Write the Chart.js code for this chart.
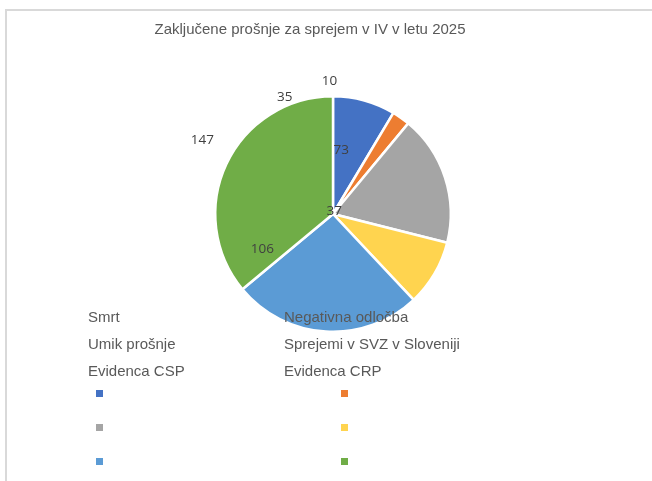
<!DOCTYPE html>
<html>
<head>
<meta charset="utf-8">
<script src="https://cdn.jsdelivr.net/npm/chart.js@4"></script>
<style>
  html, body { margin: 0; padding: 0; background: #fff; }
  #wrap { position: relative; width: 652px; height: 481px; }
</style>
</head>
<body>
<div id="wrap"><canvas id="graf" width="652" height="481"></canvas></div>
<script>
// podatki
var naslov = "Zaključene prošnje za sprejem v IV v letu 2025";
var kategorije = ["Smrt", "Negativna odločba", "Umik prošnje", "Sprejemi v SVZ v Sloveniji", "Evidenca CSP", "Evidenca CRP"];
var vrednosti = [35, 10, 73, 37, 106, 147];
var barve = ["#4472C4", "#ED7D31", "#A5A5A5", "#FFD44F", "#5B9BD5", "#70AD47"];

// kje so oznake vrednosti (v enotah polmera od sredine), kot v Excelu
var zamikOznak = [[-0.41, -0.99], [-0.03, -1.13], [0.07, -0.54], [0.01, -0.02], [-0.60, 0.30], [-1.11, -0.63]];

const okvir = {
  id: "okvir",
  beforeDraw(chart) {
    const c = chart.ctx;
    c.save();
    c.fillStyle = "#fff";
    c.fillRect(0, 0, chart.width, chart.height);
    c.strokeStyle = "#D9D9D9";
    c.lineWidth = 2;
    c.strokeRect(6, 10, chart.width + 20, chart.height + 20);
    c.fillStyle = "#595959";
    c.font = "15px 'Liberation Sans'";
    c.textAlign = "center";
    c.textBaseline = "middle";
    c.fillText(naslov, 310, 30);
    c.restore();
  }
};

const oznake = {
  id: "oznake",
  afterDatasetsDraw(chart) {
    const c = chart.ctx;
    const arcs = chart.getDatasetMeta(0).data;
    const cx = arcs[0].x, cy = arcs[0].y, r = arcs[0].outerRadius;
    c.save();
    c.fillStyle = "#404040";
    c.font = "13.5px 'Open Sans'";
    c.textAlign = "center";
    c.textBaseline = "middle";
    vrednosti.forEach(function (v, i) {
      c.fillText(String(v), cx + zamikOznak[i][0] * r, cy + zamikOznak[i][1] * r);
    });
    c.restore();
  }
};

const legenda = {
  id: "legenda",
  afterDraw(chart) {
    const c = chart.ctx;
    const ds = chart.data.datasets[0];
    c.save();
    c.font = "15px 'Liberation Sans'";
    c.textBaseline = "middle";
    c.textAlign = "left";
    chart.data.labels.forEach(function (l, i) {
      const stolpec = i % 2, vrsta = Math.floor(i / 2);
      c.fillStyle = "#595959";
      c.fillText(l, stolpec ? 284 : 88, 318 + vrsta * 27);
      c.fillStyle = ds.backgroundColor[i];
      c.fillRect(stolpec ? 341 : 96, 390 + vrsta * 34, 7, 7);
    });
    c.restore();
  }
};

new Chart(document.getElementById("graf"), {
  type: "pie",
  data: {
    labels: kategorije,
    datasets: [{
      data: vrednosti,
      backgroundColor: barve,
      borderColor: "#fff",
      borderWidth: 2.5
    }]
  },
  options: {
    responsive: false,
    animation: false,
    layout: { padding: { left: 214, right: 200, top: 95, bottom: 148 } },
    plugins: {
      legend: { display: false },
      title: { display: false },
      tooltip: { enabled: false }
    }
  },
  plugins: [okvir, oznake, legenda]
});
</script>
</body>
</html>
